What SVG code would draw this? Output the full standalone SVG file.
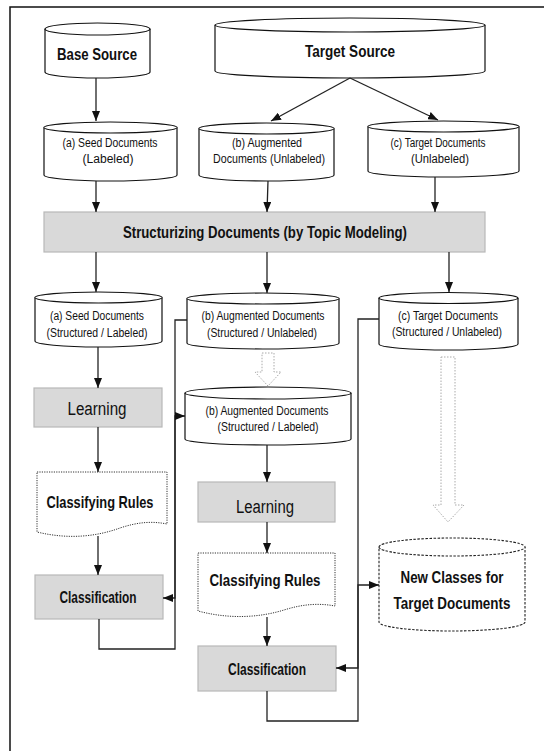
<svg xmlns="http://www.w3.org/2000/svg" width="544" height="751" viewBox="0 0 544 751">
<style>
text{font-family:"Liberation Sans Narrow","Liberation Sans",Arial,sans-serif;fill:#111;text-anchor:middle}
.cyl{fill:#fff;stroke:#111;stroke-width:1.2}
.box{fill:#d9d9d9;stroke:#b8b8b8;stroke-width:1.2}
.doc{fill:#fff;stroke:#333;stroke-width:1;stroke-dasharray:1.2 1.2}
.dcyl{fill:#fff;stroke:#222;stroke-width:1.1;stroke-dasharray:2.5 1.5}
.hol{fill:#fff;stroke:#aaa;stroke-width:1;stroke-dasharray:1.5 1.5}
.s{font-size:12.5px}
.b{font-weight:bold}
.con{fill:none;stroke:#222;stroke-width:1.3}
</style>
<defs>
<marker id="ah" markerWidth="10" markerHeight="8" refX="10" refY="4" orient="auto" markerUnits="userSpaceOnUse"><path d="M0,0 L10,4 L0,8 Z" fill="#111"/></marker>
</defs>
<g id="frame"><path d="M10,751 V7 H544" fill="none" stroke="#111" stroke-width="1.5"/></g>

<g id="base-source">
<path class="cyl" d="M45,29 A52.5,6 0 0 1 150,29 V72 A52.5,6 0 0 1 45,72 Z"/>
<path class="cyl" fill="none" d="M45,29 A52.5,6 0 0 0 150,29"/>
<text class="b" x="97" y="60" font-size="17" textLength="80" lengthAdjust="spacingAndGlyphs">Base Source</text>
</g>
<g id="target-source">
<path class="cyl" d="M215,25 A135,7 0 0 1 485,25 V71 A135,7 0 0 1 215,71 Z"/>
<path class="cyl" fill="none" d="M215,25 A135,7 0 0 0 485,25"/>
<text class="b" x="350" y="57" font-size="17" textLength="90" lengthAdjust="spacingAndGlyphs">Target Source</text>
</g>

<g id="seed-labeled">
<path class="cyl" d="M44,127.5 A66.5,5.5 0 0 1 177,127.5 V175 A66.5,6 0 0 1 44,175 Z"/>
<path class="cyl" fill="none" d="M44,127.5 A66.5,5.5 0 0 0 177,127.5"/>
<text class="s" x="110" y="147" textLength="95" lengthAdjust="spacingAndGlyphs">(a) Seed Documents</text>
<text class="s" x="108" y="163" textLength="51" lengthAdjust="spacingAndGlyphs">(Labeled)</text>
</g>
<g id="aug-unlabeled">
<path class="cyl" d="M199,128.5 A67.5,5.5 0 0 1 334,128.5 V175 A67.5,6 0 0 1 199,175 Z"/>
<path class="cyl" fill="none" d="M199,128.5 A67.5,5.5 0 0 0 334,128.5"/>
<text class="s" x="267" y="147" textLength="70" lengthAdjust="spacingAndGlyphs">(b) Augmented</text>
<text class="s" x="269" y="163" textLength="112" lengthAdjust="spacingAndGlyphs">Documents (Unlabeled)</text>
</g>
<g id="target-unlabeled">
<path class="cyl" d="M368,126.5 A75.5,5.5 0 0 1 519,126.5 V171 A75.5,6 0 0 1 368,171 Z"/>
<path class="cyl" fill="none" d="M368,126.5 A75.5,5.5 0 0 0 519,126.5"/>
<text class="s" x="438" y="147" textLength="95" lengthAdjust="spacingAndGlyphs">(c) Target Documents</text>
<text class="s" x="440" y="163" textLength="58" lengthAdjust="spacingAndGlyphs">(Unlabeled)</text>
</g>

<g id="structurizing">
<rect class="box" x="44" y="212" width="441" height="40"/>
<text class="b" x="265" y="238" font-size="17" textLength="284" lengthAdjust="spacingAndGlyphs">Structurizing Documents (by Topic Modeling)</text>
</g>

<g id="seed-structured">
<path class="cyl" d="M35,297.5 A63.5,5.5 0 0 1 162,297.5 V341 A63.5,6 0 0 1 35,341 Z"/>
<path class="cyl" fill="none" d="M35,297.5 A63.5,5.5 0 0 0 162,297.5"/>
<text class="s" x="97" y="320" textLength="94" lengthAdjust="spacingAndGlyphs">(a) Seed Documents</text>
<text class="s" x="97" y="337" textLength="101" lengthAdjust="spacingAndGlyphs">(Structured / Labeled)</text>
</g>
<g id="aug-structured-unlabeled">
<path class="cyl" d="M187,298.5 A76,5.5 0 0 1 339,298.5 V343 A76,6 0 0 1 187,343 Z"/>
<path class="cyl" fill="none" d="M187,298.5 A76,5.5 0 0 0 339,298.5"/>
<text class="s" x="263" y="320" textLength="123" lengthAdjust="spacingAndGlyphs">(b) Augmented Documents</text>
<text class="s" x="262" y="337" textLength="110" lengthAdjust="spacingAndGlyphs">(Structured / Unlabeled)</text>
</g>
<g id="target-structured">
<path class="cyl" d="M379,298 A69.5,5.5 0 0 1 518,298 V344 A69.5,6 0 0 1 379,344 Z"/>
<path class="cyl" fill="none" d="M379,298 A69.5,5.5 0 0 0 518,298"/>
<text class="s" x="448" y="320" textLength="100" lengthAdjust="spacingAndGlyphs">(c) Target Documents</text>
<text class="s" x="447" y="336" textLength="110" lengthAdjust="spacingAndGlyphs">(Structured / Unlabeled)</text>
</g>

<g id="aug-structured-labeled">
<path class="cyl" d="M185,393 A83,6 0 0 1 351,393 V439 A83,6 0 0 1 185,439 Z"/>
<path class="cyl" fill="none" d="M185,393 A83,6 0 0 0 351,393"/>
<text class="s" x="267" y="415" textLength="123" lengthAdjust="spacingAndGlyphs">(b) Augmented Documents</text>
<text class="s" x="268" y="431" textLength="101" lengthAdjust="spacingAndGlyphs">(Structured / Labeled)</text>
</g>

<g id="learning-a">
<rect class="box" x="34" y="388" width="128" height="39"/>
<text x="97" y="415" font-size="18" textLength="59" lengthAdjust="spacingAndGlyphs">Learning</text>
</g>
<g id="rules-a">
<path class="doc" d="M37,472 H167 V524 C152,521 138,522 120,528 C98,536 70,540 37,532 Z"/>
<text class="b" x="100" y="508" font-size="17" textLength="107" lengthAdjust="spacingAndGlyphs">Classifying Rules</text>
</g>
<g id="classification-a">
<rect class="box" x="35" y="575" width="128" height="44"/>
<text class="b" x="98" y="603" font-size="16" textLength="77" lengthAdjust="spacingAndGlyphs">Classification</text>
</g>

<g id="learning-b">
<rect class="box" x="198" y="482" width="137" height="40"/>
<text x="265" y="513" font-size="18" textLength="58" lengthAdjust="spacingAndGlyphs">Learning</text>
</g>
<g id="rules-b">
<path class="doc" d="M198,553 H335 V606 C319,603 303,604 284,610 C258,618 228,619 198,611 Z"/>
<text class="b" x="265" y="586" font-size="17" textLength="111" lengthAdjust="spacingAndGlyphs">Classifying Rules</text>
</g>
<g id="classification-b">
<rect class="box" x="198" y="646" width="138" height="45"/>
<text class="b" x="267" y="675" font-size="16" textLength="78" lengthAdjust="spacingAndGlyphs">Classification</text>
</g>

<g id="new-classes">
<path class="dcyl" d="M379,547 A73,9 0 0 1 525,547 V622 A73,9 0 0 1 379,622 Z"/>
<path class="dcyl" fill="none" d="M379,547 A73,9 0 0 0 525,547"/>
<text class="b" x="452" y="583" font-size="16.5" textLength="103" lengthAdjust="spacingAndGlyphs">New Classes for</text>
<text class="b" x="452" y="609" font-size="16.5" textLength="117" lengthAdjust="spacingAndGlyphs">Target Documents</text>
</g>

<g id="connectors">
<path class="con" marker-end="url(#ah)" d="M96,78 V121"/>
<path class="con" marker-end="url(#ah)" d="M350,78 L271,121"/>
<path class="con" marker-end="url(#ah)" d="M350,78 L438,120"/>
<path class="con" marker-end="url(#ah)" d="M96,181 V212"/>
<path class="con" marker-end="url(#ah)" d="M268,181 L267,212"/>
<path class="con" marker-end="url(#ah)" d="M435,177 V212"/>
<path class="con" marker-end="url(#ah)" d="M96,252 V292"/>
<path class="con" marker-end="url(#ah)" d="M267,252 V293"/>
<path class="con" marker-end="url(#ah)" d="M449,252 V292"/>
<path class="con" marker-end="url(#ah)" d="M98,347 V388"/>
<path class="con" marker-end="url(#ah)" d="M98,427 V472"/>
<path class="con" marker-end="url(#ah)" d="M98,536 V575"/>
<path class="con" marker-end="url(#ah)" d="M267,445 V482"/>
<path class="con" marker-end="url(#ah)" d="M267,522 V553"/>
<path class="con" marker-end="url(#ah)" d="M267,617 V646"/>
<path class="con" marker-end="url(#ah)" d="M187,320 H175 V598 H163"/>
<path class="con" marker-end="url(#ah)" d="M99,619 V649 H175 V416 H185"/>
<path class="con" marker-end="url(#ah)" d="M379,319 H358 V668 H336"/>
<path class="con" marker-end="url(#ah)" d="M267,691 V721 H358 V585 H379"/>
<path class="hol" d="M262,353 H274 V372 H281 L268,386 L255,372 H262 Z"/>
<path class="hol" d="M441,357 H455 V505 H464 L448,522 L433,505 H441 Z"/>
</g>
</svg>
